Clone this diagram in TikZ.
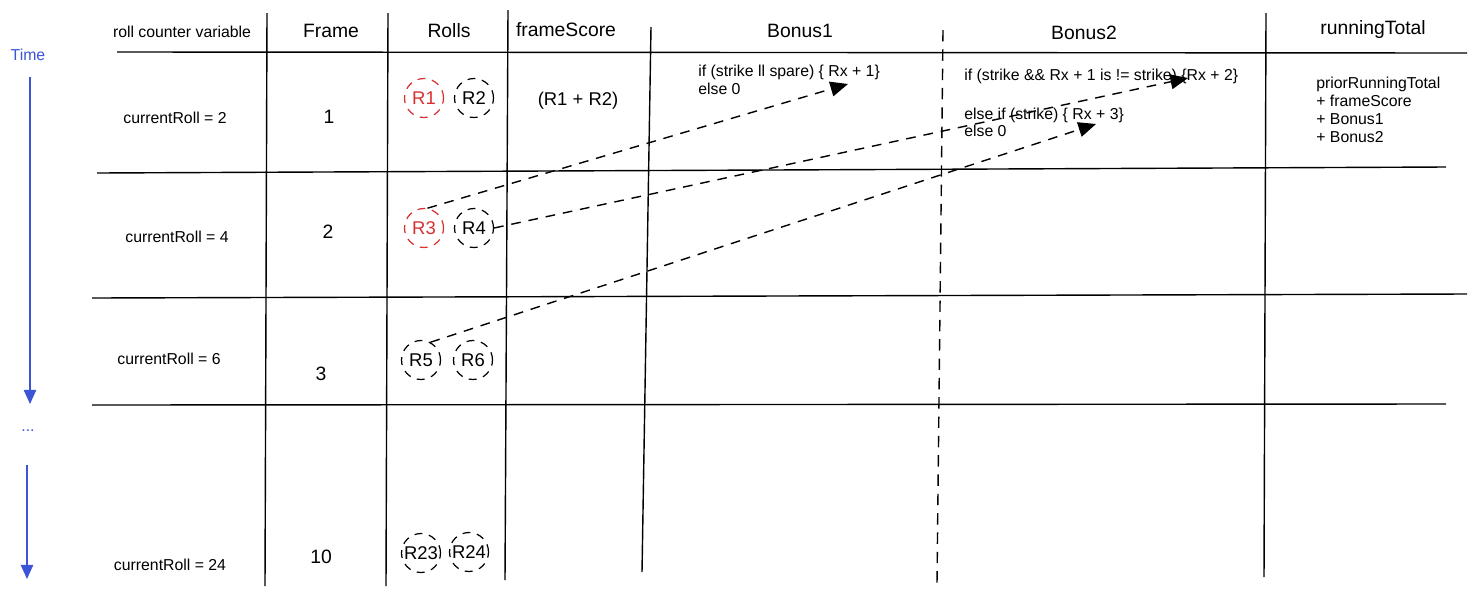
\documentclass[tikz,border=0pt]{standalone}
\usepackage{fontspec}
\setmainfont{Liberation Sans}
\usetikzlibrary{arrows.meta}
\definecolor{timeblue}{RGB}{60,84,214}
\definecolor{rollred}{RGB}{214,48,48}
\tikzset{>=latex}
\tikzset{
  tabline/.style={line width=0.8pt},
  splitline/.style={line width=0.8pt, dash pattern=on 6.5pt off 4.5pt},
  headtxt/.style={font=\fontsize{11}{13}\selectfont},
  celltxt/.style={font=\fontsize{9}{11}\selectfont},
  numtxt/.style={font=\fontsize{11}{13}\selectfont},
  codetxt/.style={font=\fontsize{9}{10.2}\selectfont, align=left, anchor=west, inner sep=0pt},
  rollc/.style={circle, draw, line width=0.7pt, dash pattern=on 4.5pt off 3.8pt,
    minimum size=0.78cm, inner sep=0pt, font=\fontsize{10.5}{12}\selectfont},
  strikeroll/.style={rollc, draw=rollred, text=rollred},
  bonusarrow/.style={line width=0.8pt, dash pattern=on 5.5pt off 4.5pt,
    -{Triangle[length=10pt,width=8.5pt]}},
  timeline/.style={timeblue, line width=0.8pt, -{Triangle[length=8pt,width=7pt]}},
  timetxt/.style={text=timeblue, font=\fontsize{9}{10}\selectfont}
}
\begin{document}
\begin{tikzpicture}[x=0.02cm,y=-0.02cm]
    \useasboundingbox (0,0) rectangle (1477,596);
    %%% table
    \draw[tabline] (117,52) -- (1467,53);
    \draw[tabline] (97,173) -- (1446,167);
    \draw[tabline] (92,298) -- (1467,294);
    \draw[tabline] (92,405) -- (1446,404);
    \draw[tabline] (267,13) -- (265,586);
    \draw[tabline] (388,13) -- (386,586);
    \draw[tabline] (508,10) -- (505,580);
    \draw[tabline] (651,27) -- (642,572);
    \draw[splitline] (943,30) -- (937,583);
    \draw[tabline] (1266,13) -- (1264,577);
    %%% headers
    \node[celltxt] (hdrVar) at (182,32) {roll counter variable};
    \node[headtxt] (hdrFrame) at (331,31) {Frame};
    \node[headtxt] (hdrRolls) at (449,31) {Rolls};
    \node[headtxt] (hdrScore) at (566,30) {frameScore};
    \node[headtxt] (hdrBonusA) at (800,31) {Bonus1};
    \node[headtxt] (hdrBonusB) at (1084,33) {Bonus2};
    \node[headtxt] (hdrTotal) at (1373,29) {runningTotal};
    %%% rows
    \node[celltxt] (cur2) at (175,118) {currentRoll = 2};
    \node[celltxt] (cur4) at (177,237) {currentRoll = 4};
    \node[celltxt] (cur6) at (169,359) {currentRoll = 6};
    \node[celltxt] (cur24) at (170,565) {currentRoll = 24};
    \node[numtxt] (fr1) at (329,117) {1};
    \node[numtxt] (fr2) at (328,232) {2};
    \node[numtxt] (fr3) at (321,374) {3};
    \node[numtxt] (fr10) at (321,557) {10};
    %%%
    \node[strikeroll] (R1) at (424,98) {R1};
    \node[rollc] (R2) at (474,98) {R2};
    \node[strikeroll] (R3) at (424,228) {R3};
    \node[rollc] (R4) at (474,228) {R4};
    \node[rollc] (R5) at (421,360) {R5};
    \node[rollc] (R6) at (473,360) {R6};
    \node[rollc] (R23) at (421,553) {R23};
    \node[rollc] (R24) at (469,552) {R24};
    %%%
    \node[font=\fontsize{10.5}{12}\selectfont] (score1) at (578,101) {(R1 + R2)};
    \node[codetxt] (bonusA) at (698,80) {if (strike ll spare) \{ Rx + 1\}\\else 0};
    \node[codetxt] (bonusBif) at (964,76) {if (strike \&\& Rx + 1 is != strike) \{Rx + 2\}};
    \node[codetxt,font=\fontsize{9}{9.6}\selectfont] (bonusBelse) at (964,122) {else if (strike) \{ Rx + 3\}\\else 0};
    \node[codetxt] (total) at (1316,110) {priorRunningTotal\\+ frameScore\\+ Bonus1\\+ Bonus2};
    %%% bonus look-ahead
    \coordinate (tipA) at (848,84);
    \coordinate (tipB) at (1188,78);
    \coordinate (tipC) at (1096,124);
    \draw[bonusarrow] (R3.80) -- (tipA);
    \draw[bonusarrow] (R4.east) -- (tipB);
    \draw[bonusarrow] (R5.62) -- (tipC);
    %%% time axis
    \node[timetxt] (time) at (28,55) {Time};
    \node[timetxt] (dots) at (28,431) {...};
    \coordinate (timeTopA) at (30,77);
    \coordinate (timeEndA) at (30,404);
    \coordinate (timeTopB) at (27,465);
    \coordinate (timeEndB) at (27,579);
    \draw[timeline] (timeTopA) -- (timeEndA);
    \draw[timeline] (timeTopB) -- (timeEndB);
\end{tikzpicture}
\end{document}
